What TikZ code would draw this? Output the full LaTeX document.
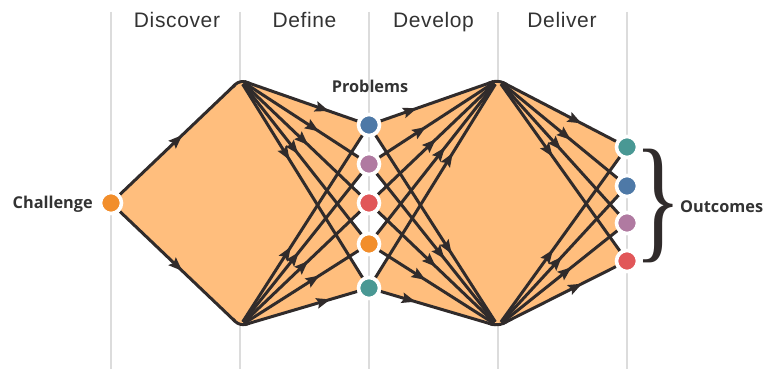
\documentclass[tikz,border=0pt]{standalone}
\usepackage{fontspec}
\setmainfont{Liberation Sans}
\newfontfamily\labfont{Open Sans}
\newfontfamily\bracefont{Liberation Serif}
\usetikzlibrary{decorations.markings,calc}
\definecolor{ink}{HTML}{302B2B}
\definecolor{fillor}{HTML}{FFBE7D}
\definecolor{guidegray}{HTML}{DCDCDC}
\definecolor{cblue}{HTML}{4E79A7}
\definecolor{cpurple}{HTML}{B07AA1}
\definecolor{cred}{HTML}{E15759}
\definecolor{corange}{HTML}{F28E2B}
\definecolor{cteal}{HTML}{499894}
\definecolor{txt}{HTML}{333333}
\pgfdeclarelayer{guides}
\pgfdeclarelayer{fills}
\pgfdeclarelayer{edges}
\pgfsetlayers{guides,fills,edges,main}
\tikzset{
  guide/.style={draw=guidegray, line width=1.2pt},
  edge/.style={draw=ink, line width=3pt},
  fwd/.style={postaction={decorate,decoration={markings,mark=at position #1 with {\fill[ink] (0pt,0pt) -- (-14pt,5.5pt) -- (-11.5pt,0pt) -- (-14pt,-5.5pt) -- cycle;}}}},
  rev/.style={postaction={decorate,decoration={markings,mark=at position #1 with {\fill[ink] (0pt,0pt) -- (14pt,5.5pt) -- (11.5pt,0pt) -- (14pt,-5.5pt) -- cycle;}}}},
  dot/.style={circle, draw=white, line width=3.6pt, minimum size=21pt, inner sep=0pt},
  phase/.style={text=txt, font=\fontsize{21}{25}\selectfont\addfontfeature{LetterSpace=3}, anchor=base},
  lab/.style={text=txt, font=\labfont\bfseries\fontsize{16.3}{19}\selectfont},
}
\begin{document}
\begin{tikzpicture}[x=1pt,y=-1pt]
\useasboundingbox (0,0) rectangle (764,369);
\coordinate (T1) at (240,80);
\coordinate (B1) at (240,326);
\coordinate (T2) at (498,80);
\coordinate (B2) at (498,326);
\node[dot, fill=corange] (C) at (111,203) {};
\node[dot, fill=cblue] (P1) at (369,125) {};
\node[dot, fill=cpurple] (P2) at (369,164) {};
\node[dot, fill=cred] (P3) at (369,203) {};
\node[dot, fill=corange] (P4) at (369,244) {};
\node[dot, fill=cteal] (P5) at (369,288) {};
\node[dot, fill=cteal] (O1) at (627,147) {};
\node[dot, fill=cblue] (O2) at (627,186) {};
\node[dot, fill=cpurple] (O3) at (627,223) {};
\node[dot, fill=cred] (O4) at (627,261) {};
\begin{pgfonlayer}{guides}
\foreach \x in {111,240,369,498,627} \draw[guide] (\x,12) -- (\x,369);
\end{pgfonlayer}
\begin{pgfonlayer}{fills}
\fill[fillor] (C.center) -- ($(T1)+(0,1.5)$) -- ($(B1)+(0,-1.5)$) -- cycle;
\foreach \i in {1,...,5} {
  \fill[fillor] ($(T1)+(0,1.5)$) -- (P\i.center) -- ($(B1)+(0,-1.5)$) -- cycle;
  \fill[fillor] ($(T2)+(0,1.5)$) -- (P\i.center) -- ($(B2)+(0,-1.5)$) -- cycle;
}
\foreach \j in {1,...,4} {
  \fill[fillor] ($(T2)+(0,1.5)$) -- (O\j.center) -- ($(B2)+(0,-1.5)$) -- cycle;
}
\end{pgfonlayer}
\begin{pgfonlayer}{edges}
\draw[edge, shorten >=7pt, fwd=86pt] (C) -- (T1);
\draw[edge, shorten >=7pt, fwd=86pt] (C) -- (B1);
\draw[edge, rounded corners=6pt] ($(T1)!10pt!(C)$) -- (T1) -- ($(T1)!10pt!(P1)$);
\draw[edge, rounded corners=6pt] ($(B1)!10pt!(C)$) -- (B1) -- ($(B1)!10pt!(P5)$);
\draw[edge, rounded corners=6pt] ($(T2)!10pt!(P1)$) -- (T2) -- ($(T2)!10pt!(O1)$);
\draw[edge, rounded corners=6pt] ($(B2)!10pt!(P5)$) -- (B2) -- ($(B2)!10pt!(O4)$);
\foreach \i in {1,...,5} {
  \draw[edge, shorten <=5pt, fwd=94pt] (T1) -- (P\i);
  \draw[edge, shorten <=5pt, fwd=94pt] (B1) -- (P\i);
  \draw[edge, shorten <=5pt, rev=86pt] (T2) -- (P\i);
  \draw[edge, shorten <=5pt, rev=86pt] (B2) -- (P\i);
}
\foreach \j in {1,...,4} {
  \draw[edge, shorten <=5pt, fwd=94pt] (T2) -- (O\j);
  \draw[edge, shorten <=5pt, fwd=94pt] (B2) -- (O\j);
}
\end{pgfonlayer}
\node[text=ink, inner sep=0pt, anchor=center] (br) at (658,206) {\scalebox{1.8}[2.5]{\bracefont\fontsize{55}{55}\selectfont\}}};
\node[phase] (ph1) at (177,28) {Discover};
\node[phase] (ph2) at (304.5,28) {Define};
\node[phase] (ph3) at (433.5,28) {Develop};
\node[phase] (ph4) at (562,28) {Deliver};
\node[lab, anchor=base east, inner sep=0pt] (lc) at (93,208.5) {Challenge};
\node[lab, anchor=base, inner sep=0pt] (lp) at (370,93) {Problems};
\node[lab, anchor=base west, inner sep=0pt] (lo) at (680,212) {Outcomes};
\end{tikzpicture}
\end{document}
